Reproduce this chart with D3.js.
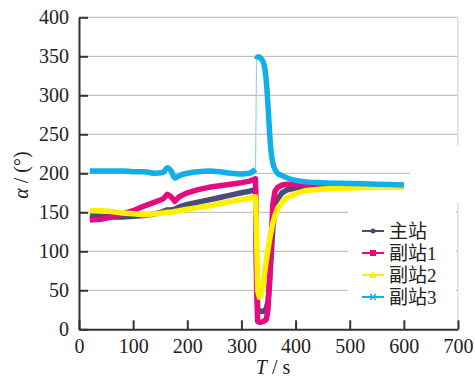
<!DOCTYPE html>
<html>
<head>
<meta charset="utf-8">
<script src="https://cdn.jsdelivr.net/npm/d3@7"></script>
<style>
  body { margin: 0; background: #fff; }
  svg { display: block; }
</style>
</head>
<body>
<svg id="chart" width="475" height="377"></svg>
<script>
// time (s)
const times = [20, 40, 60, 80, 100, 120, 140, 155, 163, 170, 177, 185, 200, 220, 240, 260, 280, 300, 315, 326,
    328, 330, 333, 336, 340, 343, 346, 349, 352, 355, 358, 362, 367, 375, 385, 400, 420, 450, 500, 550, 600];

const mainStation = [146, 145, 144, 144, 145, 146, 148, 151, 153, 153, 154, 157, 160, 163, 166, 169, 172, 175, 177, 179,
    80, 26, 23, 23, 23, 24, 27, 35, 60, 95, 130, 152, 167, 175, 179, 181, 182, 183, 184, 184, 184];
const sub1 = [140, 141, 144, 148, 152, 158, 163, 167, 173, 170, 164, 170, 175, 179, 182, 184, 186, 188, 190, 193,
    60, 10, 9, 9, 10, 11, 13, 25, 65, 115, 160, 177, 182, 185, 186, 186, 186, 185, 185, 184, 184];
const sub2 = [152, 152, 151, 149, 148, 147, 148, 149, 150, 150, 151, 152, 154, 156, 158, 161, 164, 166, 168, 170,
    120, 50, 41, 44, 58, 73, 88, 102, 115, 126, 136, 146, 155, 163, 169, 174, 178, 180, 181, 182, 182];
const sub3 = [203, 203, 203, 203, 202, 202, 200, 201, 207, 203, 194, 197, 200, 202, 203, 202, 200, 199, 200, 205,
    346, 349, 349, 347, 343, 335, 318, 288, 252, 226, 213, 205, 200, 197, 194, 191, 189, 188, 187, 186, 185];

const seriesNames = ['主站', '副站1', '副站2', '副站3'];
const seriesColors = ['#4b4a78', '#e8087f', '#fff000', '#12aee8'];
const xTicks = [0, 100, 200, 300, 400, 500, 600, 700];
const yTicks = [0, 50, 100, 150, 200, 250, 300, 350, 400];

const series = [mainStation, sub1, sub2, sub3];

const serif = "'Liberation Serif', 'Times New Roman', Times, 'DejaVu Serif', serif";

const svg = d3.select('#chart');
const plotLeft = 79, plotRight = 458, plotTop = 17.3, plotBottom = 329.3;

const x = d3.scaleLinear().domain([0, 700]).range([plotLeft, plotRight]);
const y = d3.scaleLinear().domain([0, 400]).range([plotBottom, plotTop]);

// grid
svg.append('g')
    .selectAll('line')
    .data(yTicks.filter(d => d > 0))
    .enter().append('line')
    .attr('x1', plotLeft).attr('x2', plotRight)
    .attr('y1', d => y(d)).attr('y2', d => y(d))
    .attr('stroke', '#b5b5b5')
    .attr('stroke-width', 1);

svg.append('line')
    .attr('x1', plotRight).attr('x2', plotRight)
    .attr('y1', plotTop).attr('y2', plotBottom)
    .attr('stroke', '#dcdcdc')
    .attr('stroke-width', 1.5);

// white patches behind the legend
svg.append('rect').attr('x', 348).attr('y', 200).attr('width', 108).attr('height', 120).attr('fill', '#fff');
svg.append('rect').attr('x', 410).attr('y', 145).attr('width', 60).attr('height', 58).attr('fill', '#fff');

// axes
const xAxis = svg.append('g')
    .attr('transform', `translate(0,${plotBottom})`)
    .call(d3.axisBottom(x).tickValues(xTicks).tickSize(-9).tickSizeOuter(0).tickPadding(10));
const yAxis = svg.append('g')
    .attr('transform', `translate(${plotLeft},0)`)
    .call(d3.axisLeft(y).tickValues(yTicks).tickSize(-9).tickSizeOuter(0).tickPadding(10));

[xAxis, yAxis].forEach(ax => {
    ax.attr('font-family', serif).attr('font-size', 20);
    ax.select('.domain').attr('stroke', '#333').attr('stroke-width', 2);
    ax.selectAll('.tick line').attr('stroke', '#333').attr('stroke-width', 2);
    ax.selectAll('.tick text')
        .attr('fill', '#222')
        .attr('font-family', serif)
        .attr('font-size', 20);
});

// lines
const line = d3.line()
    .x((d, i) => x(times[i]))
    .y(d => y(d));

series.forEach((vals, k) => {
    if (k === 3) {
        // station 3 jumps up with a thin line
        const j = times.indexOf(326);
        svg.append('path')
            .datum(vals.slice(j, j + 2))
            .attr('d', d3.line().x((d, i) => x(times[j + i])).y(d => y(d)))
            .attr('fill', 'none')
            .attr('stroke', '#8fd6f3')
            .attr('stroke-width', 1.2);
        [[0, j + 1], [j + 1, vals.length]].forEach(([a, b]) => {
            svg.append('path')
                .datum(vals.slice(a, b))
                .attr('d', d3.line().x((d, i) => x(times[a + i])).y(d => y(d)).curve(d3.curveMonotoneX))
                .attr('fill', 'none')
                .attr('stroke', seriesColors[k])
                .attr('stroke-width', 5.5)
                .attr('stroke-linejoin', 'round');
        });
        return;
    }
    svg.append('path')
        .datum(vals)
        .attr('d', line)
        .attr('fill', 'none')
        .attr('stroke', seriesColors[k])
        .attr('stroke-width', 5.5)
        .attr('stroke-linejoin', 'round');
});

// legend
const legend = svg.append('g').attr('transform', 'translate(362,231)');
seriesNames.forEach((name, i) => {
    const g = legend.append('g').attr('transform', `translate(0,${i * 22})`);
    g.append('line')
        .attr('x1', 0).attr('x2', 22)
        .attr('stroke', seriesColors[i])
        .attr('stroke-width', 2);
    if (i === 0) {
        g.append('circle').attr('cx', 11).attr('cy', 0).attr('r', 2.5).attr('fill', seriesColors[i]);
    } else if (i === 1) {
        g.append('rect').attr('x', 8).attr('y', -3).attr('width', 6).attr('height', 6).attr('fill', seriesColors[i]);
    } else if (i === 2) {
        g.append('path').attr('d', 'M11,-4L15,3L7,3Z').attr('fill', seriesColors[i]);
    } else {
        g.append('path').attr('d', 'M8,-3L14,3M8,3L14,-3')
            .attr('stroke', seriesColors[i]).attr('stroke-width', 1.5);
    }
    g.append('text')
        .attr('x', 27).attr('y', 7)
        .attr('fill', '#222')
        .attr('font-family', serif.replace(', serif', ", 'Noto Sans CJK SC', serif"))
        .attr('font-size', 19)
        .text(name);
});

// axis titles
svg.append('text')
    .attr('x', 273).attr('y', 374)
    .attr('text-anchor', 'middle')
    .attr('fill', '#222')
    .attr('font-family', serif)
    .attr('font-size', 20)
    .html('<tspan font-style="italic">T</tspan> / s');

svg.append('text')
    .attr('transform', 'translate(28,175) rotate(-90)')
    .attr('text-anchor', 'middle')
    .attr('fill', '#222')
    .attr('font-family', serif)
    .attr('font-size', 20)
    .html('<tspan font-style="italic">α</tspan> / (°)');
</script>
</body>
</html>
